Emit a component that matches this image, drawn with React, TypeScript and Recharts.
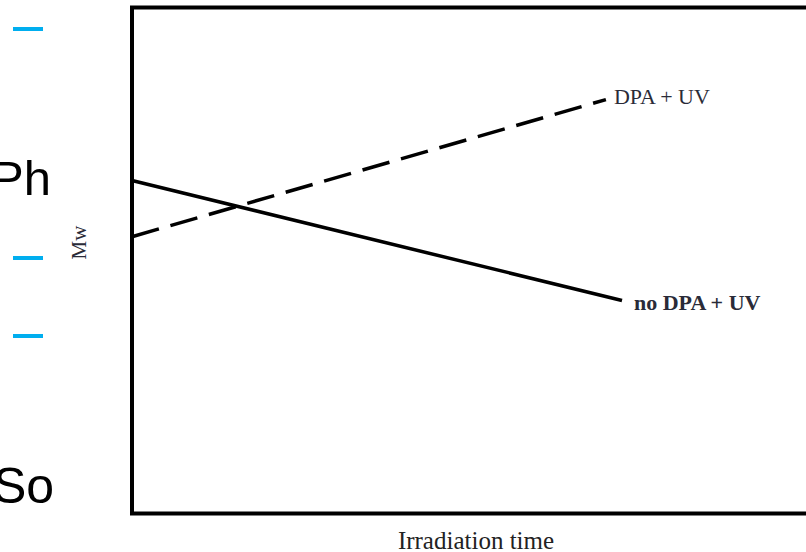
import { LineChart, Line, XAxis, YAxis, ReferenceArea, Label } from 'recharts';

// Irradiation time (arbitrary units) at the start and end of each trace
const noDpaTime = [0, 70];
const noDpaMw = [65.8, 42.1];

const dpaTime = [0, 67.7];
const dpaMw = [54.7, 81.8];

const xDomain = [0, 100];
const yDomain = [0, 100];

const noDpaData = noDpaTime.map((t, i) => ({ t, mw: noDpaMw[i] }));
const dpaData = dpaTime.map((t, i) => ({ t, mw: dpaMw[i] }));

const serif = '"Liberation Serif", "DejaVu Serif", serif';
const sans = '"Liberation Sans", Arial, sans-serif';

function EndLabel(props: any) {
  const { x, y, index, text, bold, dx, dy } = props;
  if (index !== 1) return null;
  return (
    <text
      x={x + dx}
      y={y + dy}
      fontFamily={serif}
      fontSize={22}
      fontWeight={bold ? 700 : 400}
      fill="#2a2b38"
    >
      {text}
    </text>
  );
}

export default function App() {
  return (
    <div
      style={{
        position: 'absolute',
        left: 0,
        top: 0,
        width: 806,
        height: 552,
        overflow: 'hidden',
        background: '#fff',
      }}
    >
      {/* slide fragments on the left */}
      <div style={{ position: 'absolute', left: 13, top: 27, width: 30, height: 4, background: '#00aeef' }} />
      <div style={{ position: 'absolute', left: 13, top: 256, width: 30, height: 4, background: '#00aeef' }} />
      <div style={{ position: 'absolute', left: 13, top: 334, width: 30, height: 4, background: '#00aeef' }} />
      <svg style={{ position: 'absolute', left: 0, top: 0 }} width={120} height={552}>
        <text x={-9} y={195} fontFamily={sans} fontSize={49} fill="#000">
          Ph
        </text>
        <text x={-7} y={503} fontFamily={sans} fontSize={50} fill="#000">
          So
        </text>
      </svg>

      <div style={{ position: 'absolute', left: 0, top: 0 }}>
        <LineChart
          width={860}
          height={552}
          margin={{ top: 7.5, right: 28, left: 0, bottom: 37.5 }}
        >
          <XAxis
            type="number"
            dataKey="t"
            domain={xDomain}
            tick={false}
            axisLine={false}
            tickLine={false}
            height={1}
          >
            <Label
              value="Irradiation time"
              position="insideBottom"
              offset={-34}
              dx={-6}
              style={{ fontFamily: serif, fontSize: 25, fill: '#222' }}
            />
          </XAxis>
          <YAxis
            type="number"
            domain={yDomain}
            tick={false}
            axisLine={false}
            tickLine={false}
            width={132}
          >
            <Label
              value="Mw"
              angle={-90}
              position="insideLeft"
              offset={79}
              dy={-18}
              style={{ fontFamily: serif, fontSize: 21, fill: '#2a2b38', textAnchor: 'middle' }}
            />
          </YAxis>
          <ReferenceArea
            x1={xDomain[0]}
            x2={xDomain[1]}
            y1={yDomain[0]}
            y2={yDomain[1]}
            fill="none"
            stroke="#000"
            strokeWidth={4}
            fillOpacity={0}
          />
          <Line
            data={noDpaData}
            dataKey="mw"
            stroke="#000"
            strokeWidth={3.5}
            dot={false}
            isAnimationActive={false}
            label={<EndLabel text="no DPA + UV" bold dx={12} dy={10} />}
          />
          <Line
            data={dpaData}
            dataKey="mw"
            stroke="#000"
            strokeWidth={3.5}
            strokeDasharray="28 12"
            dot={false}
            isAnimationActive={false}
            label={<EndLabel text="DPA + UV" bold={false} dx={8} dy={4} />}
          />
        </LineChart>
      </div>
    </div>
  );
}
